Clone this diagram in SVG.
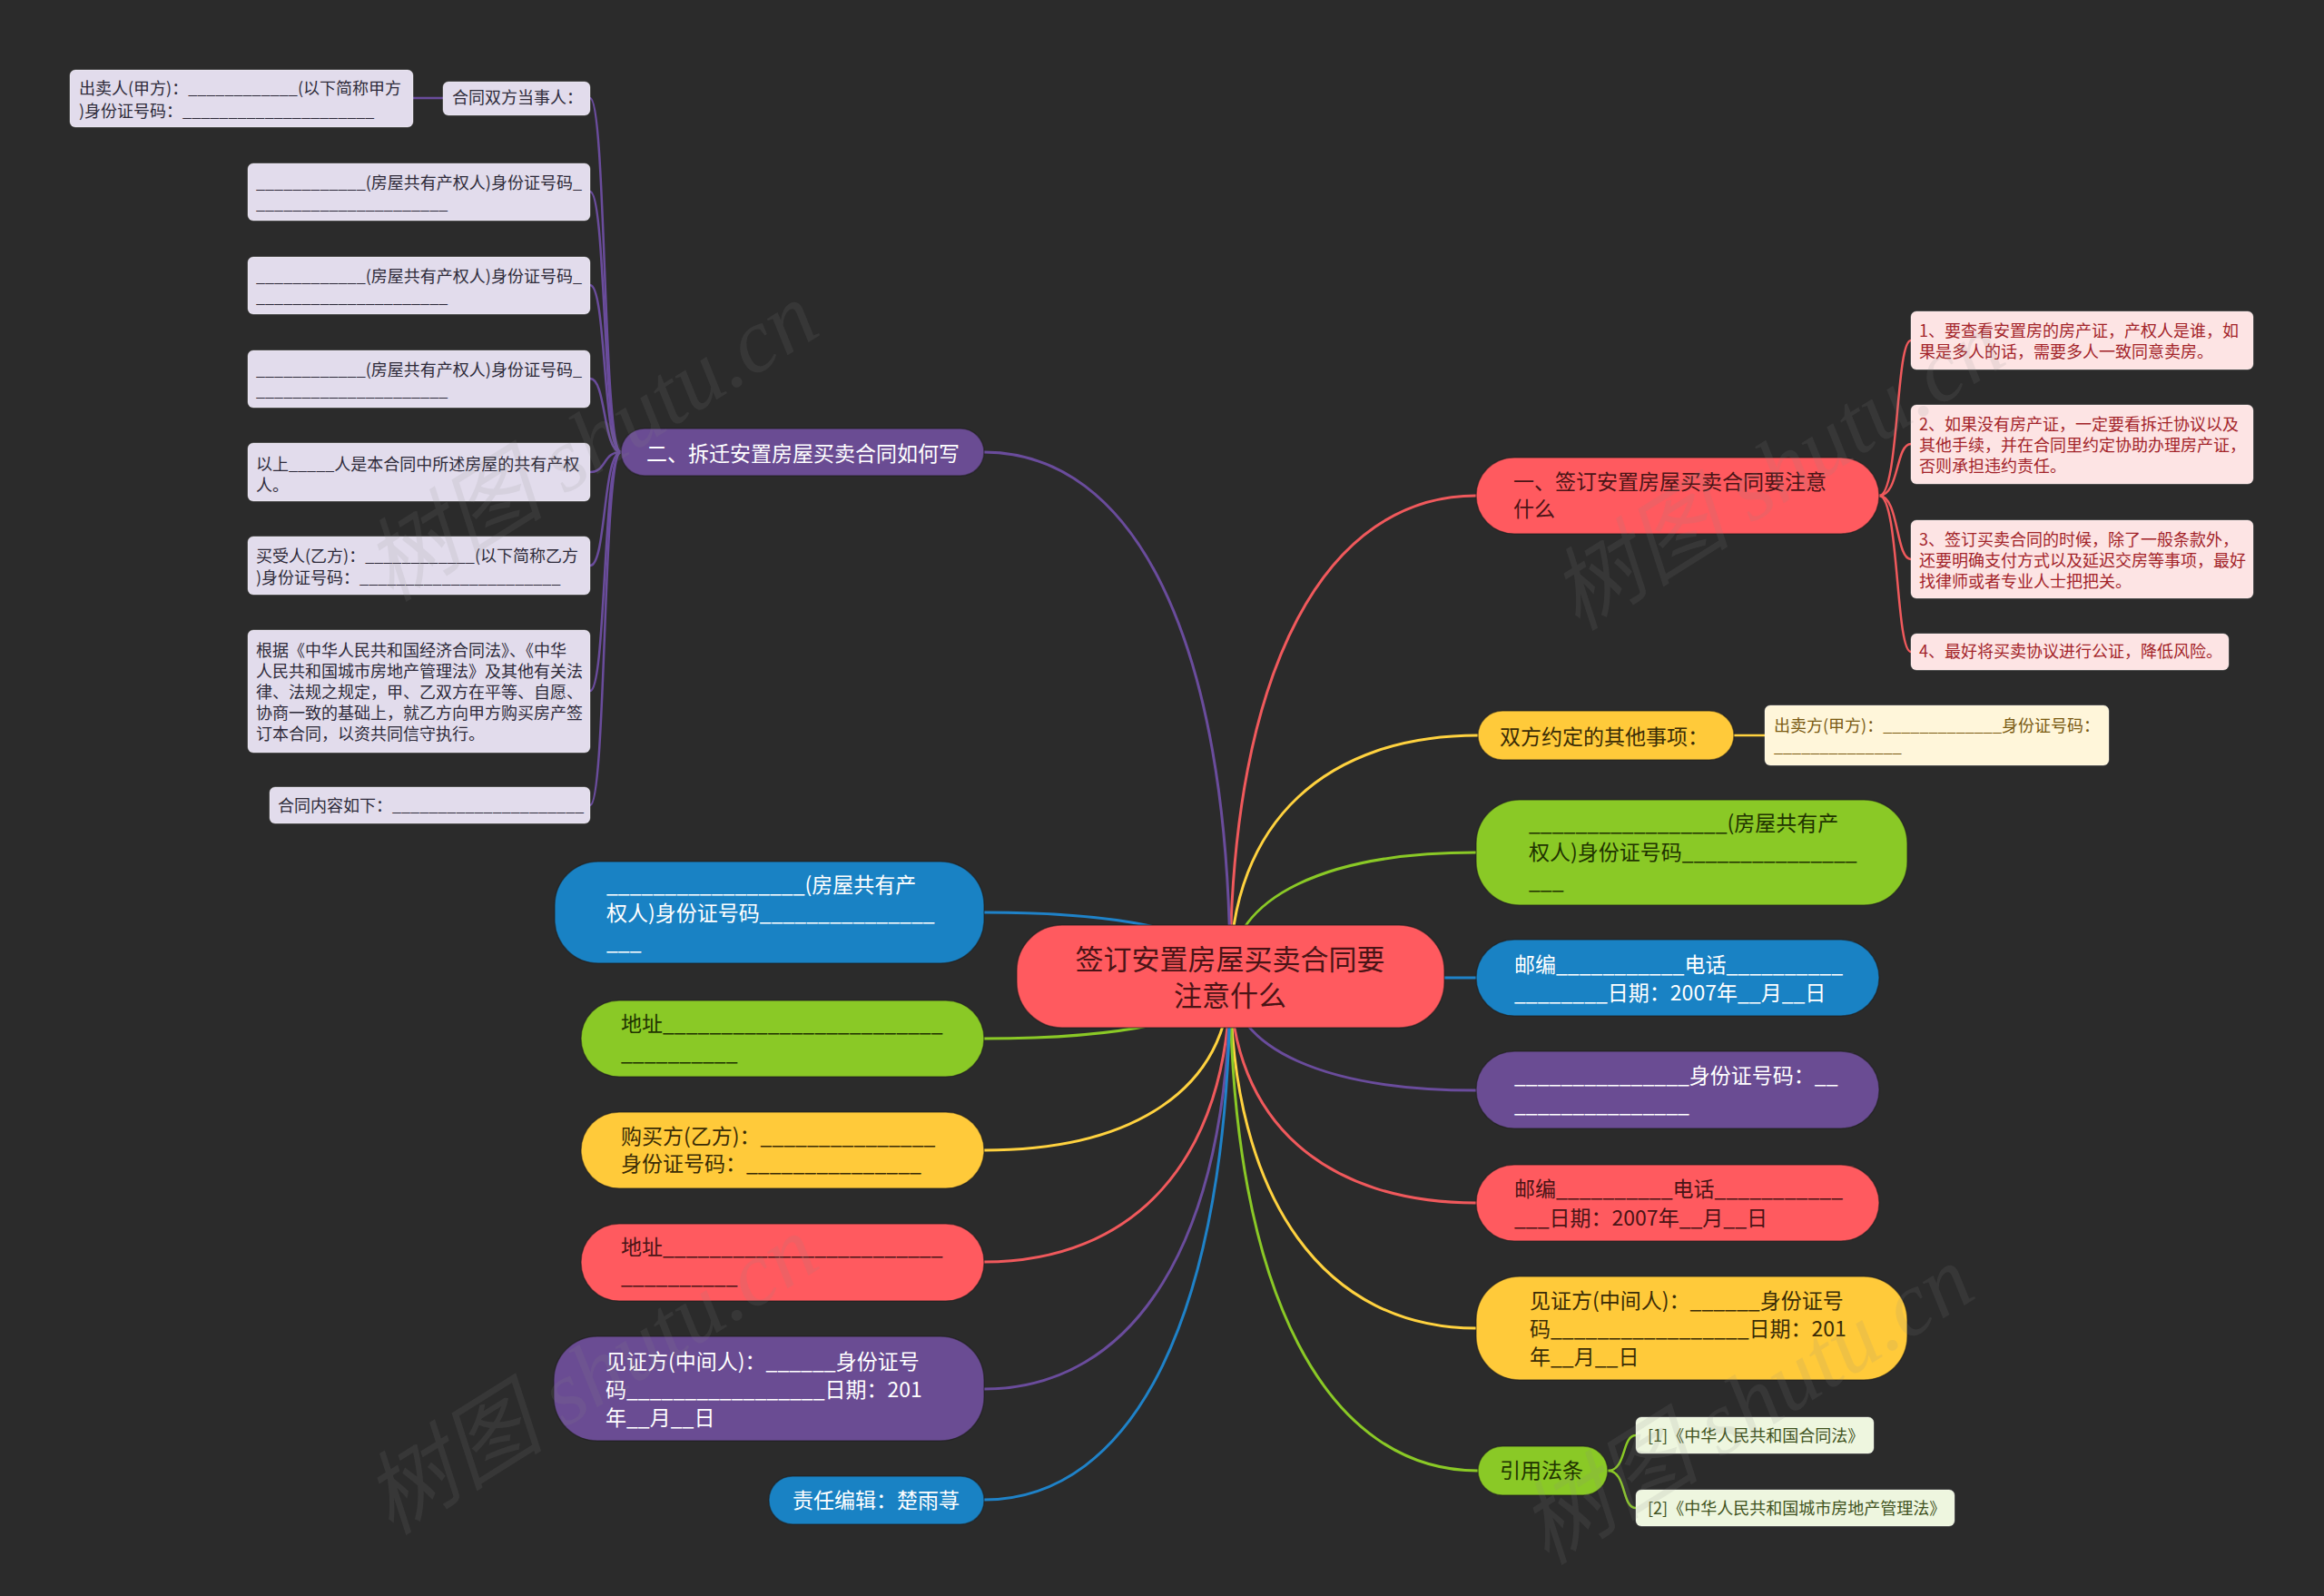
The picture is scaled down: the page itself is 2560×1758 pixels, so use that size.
<svg xmlns="http://www.w3.org/2000/svg" width="2560" height="1758" viewBox="0 0 2560 1758">
<defs>
<style>
.t{font-family:"Noto Sans CJK SC","Noto Sans",sans-serif}
.s18{font-size:18px}.s23{font-size:23px}.s31{font-size:31px}
.cR{stroke:#f0595c}.cY{stroke:#ffd23f}.cG{stroke:#8ac926}.cB{stroke:#1f82c8}.cP{stroke:#6a4c9c}
.ln{fill:none;stroke-width:3}
.sl{fill:none;stroke-width:2.5}
.nR{fill:#ff5a5f}.nY{fill:#ffca3a}.nG{fill:#8ac926}.nB{fill:#1982c4}.nP{fill:#6a4c93}
.nd{stroke:#1c1c1c;stroke-opacity:.5;stroke-width:1.5}
.tR{fill:#4a1416}.tY{fill:#3a2c06}.tG{fill:#1f3300}.tW{fill:#ffffff}
.bPk{fill:#fde4e4}.bCr{fill:#fff6da}.bLg{fill:#eef6df}.bLv{fill:#e2dcec}
.bx{stroke:#ffffff;stroke-opacity:.35;stroke-width:1}
.tPk{fill:#a3242a}.tCr{fill:#7a5a12}.tLg{fill:#3f5220}.tLv{fill:#2e2b3a}
.wm{font-family:"Liberation Serif","Noto Sans CJK SC",serif;font-size:100px;font-style:italic;fill:#8a8a8a;opacity:.13}
</style>
</defs>
<rect x="0" y="0" width="2560" height="1758" fill="#2b2b2b"/>

<g id="connectors">
<path class="ln cR" d="M1355,1075 C1355,731 1463,546 1626,546"/>
<path class="ln cY" d="M1355,1075 C1355,903 1464,810 1628,810"/>
<path class="ln cG" d="M1355,1075 C1355,987 1463,939 1626,939"/>
<path class="ln cB" d="M1355,1075 C1355,1076 1463,1077 1626,1077"/>
<path class="ln cP" d="M1355,1075 C1355,1157 1463,1201 1626,1201"/>
<path class="ln cR" d="M1355,1075 C1355,1238 1463,1325 1626,1325"/>
<path class="ln cY" d="M1355,1075 C1355,1327 1463,1463 1626,1463"/>
<path class="ln cG" d="M1355,1075 C1355,1429 1464,1620 1628,1620"/>
<path class="ln cP" d="M1355,1075 C1355,700 1247,498 1084,498"/>
<path class="ln cB" d="M1355,1075 C1355,1030 1247,1005 1084,1005"/>
<path class="ln cG" d="M1355,1075 C1355,1120 1247,1144 1084,1144"/>
<path class="ln cY" d="M1355,1075 C1355,1200 1247,1267 1084,1267"/>
<path class="ln cR" d="M1355,1075 C1355,1280 1247,1390 1084,1390"/>
<path class="ln cP" d="M1355,1075 C1355,1371 1247,1530 1084,1530"/>
<path class="ln cB" d="M1355,1075 C1355,1450 1247,1652 1084,1652"/>
<path class="sl cR" d="M2070,546 C2092,546 2088,375 2105,375"/>
<path class="sl cR" d="M2070,546 C2092,546 2088,489 2105,489"/>
<path class="sl cR" d="M2070,546 C2092,546 2088,616 2105,616"/>
<path class="sl cR" d="M2070,546 C2092,546 2088,718 2105,718"/>
<path class="sl cY" d="M1910,810 L1944,810"/>
<path class="sl cG" d="M1771,1620 C1792,1620 1786,1581 1802,1581"/>
<path class="sl cG" d="M1771,1620 C1792,1620 1786,1661 1802,1661"/>
<path class="sl cP" d="M684,498 C664,498 668,108 650,108"/>
<path class="sl cP" d="M684,498 C664,498 668,211 650,211"/>
<path class="sl cP" d="M684,498 C664,498 668,314 650,314"/>
<path class="sl cP" d="M684,498 C664,498 668,417 650,417"/>
<path class="sl cP" d="M684,498 C664,498 668,520 650,520"/>
<path class="sl cP" d="M684,498 C664,498 668,623 650,623"/>
<path class="sl cP" d="M684,498 C664,498 668,761 650,761"/>
<path class="sl cP" d="M684,498 C664,498 668,887 650,887"/>
<path class="sl cP" d="M488,108 L455,108"/>
</g>

<g id="center">
<rect class="nR nd" x="1120" y="1019" width="471" height="113" rx="50"/>
<text class="t s31 tR" x="1355" y="1068" text-anchor="middle">签订安置房屋买卖合同要</text>
<text class="t s31 tR" x="1355" y="1108" text-anchor="middle">注意什么</text>
</g>

<g id="r1">
<rect class="nR nd" x="1626" y="504" width="444" height="84" rx="42"/>
<text class="t s23 tR" x="1667" y="539">一、签订安置房屋买卖合同要注意</text>
<text class="t s23 tR" x="1667" y="569">什么</text>
</g>
<g id="r1a">
<rect class="bPk bx" x="2105" y="343" width="377" height="64" rx="6"/>
<text class="t s18 tPk" x="2114" y="371">1、要查看安置房的房产证，产权人是谁，如</text>
<text class="t s18 tPk" x="2114" y="394">果是多人的话，需要多人一致同意卖房。</text>
</g>
<g id="r1b">
<rect class="bPk bx" x="2105" y="446" width="377" height="87" rx="6"/>
<text class="t s18 tPk" x="2114" y="474">2、如果没有房产证，一定要看拆迁协议以及</text>
<text class="t s18 tPk" x="2114" y="497">其他手续，并在合同里约定协助办理房产证，</text>
<text class="t s18 tPk" x="2114" y="520">否则承担违约责任。</text>
</g>
<g id="r1c">
<rect class="bPk bx" x="2105" y="573" width="377" height="86" rx="6"/>
<text class="t s18 tPk" x="2114" y="601">3、签订买卖合同的时候，除了一般条款外，</text>
<text class="t s18 tPk" x="2114" y="624">还要明确支付方式以及延迟交房等事项，最好</text>
<text class="t s18 tPk" x="2114" y="647">找律师或者专业人士把把关。</text>
</g>
<g id="r1d">
<rect class="bPk bx" x="2105" y="698" width="350" height="40" rx="6"/>
<text class="t s18 tPk" x="2114" y="724">4、最好将买卖协议进行公证，降低风险。</text>
</g>

<g id="r2">
<rect class="nY nd" x="1628" y="783" width="282" height="54" rx="27"/>
<text class="t s23 tY" x="1652" y="820">双方约定的其他事项：</text>
</g>
<g id="r2a">
<rect class="bCr bx" x="1944" y="777" width="379" height="66" rx="6"/>
<text class="t s18 tCr" x="1954" y="806">出卖方(甲方)：_____________身份证号码：</text>
<text class="t s18 tCr" x="1954" y="829">______________</text>
</g>

<g id="r3">
<rect class="nG nd" x="1626" y="881" width="475" height="116" rx="48"/>
<text class="t s23 tG" x="1684" y="915">_________________(房屋共有产</text>
<text class="t s23 tG" x="1684" y="947">权人)身份证号码_______________</text>
<text class="t s23 tG" x="1684" y="979">___</text>
</g>

<g id="r4">
<rect class="nB nd" x="1626" y="1035" width="444" height="84" rx="42"/>
<text class="t s23 tW" x="1668" y="1071">邮编___________电话__________</text>
<text class="t s23 tW" x="1668" y="1102">________日期：2007年__月__日</text>
</g>

<g id="r5">
<rect class="nP nd" x="1626" y="1158" width="444" height="85" rx="42"/>
<text class="t s23 tW" x="1668" y="1193">_______________身份证号码：__</text>
<text class="t s23 tW" x="1668" y="1225">_______________</text>
</g>

<g id="r6">
<rect class="nR nd" x="1626" y="1283" width="444" height="84" rx="42"/>
<text class="t s23 tR" x="1668" y="1318">邮编__________电话___________</text>
<text class="t s23 tR" x="1668" y="1350">___日期：2007年__月__日</text>
</g>

<g id="r7">
<rect class="nY nd" x="1626" y="1406" width="475" height="114" rx="48"/>
<text class="t s23 tY" x="1685" y="1441">见证方(中间人)：______身份证号</text>
<text class="t s23 tY" x="1685" y="1472">码_________________日期：201</text>
<text class="t s23 tY" x="1685" y="1503">年__月__日</text>
</g>

<g id="r8">
<rect class="nG nd" x="1628" y="1593" width="143" height="54" rx="27"/>
<text class="t s23 tG" x="1652" y="1628">引用法条</text>
</g>
<g id="r8a">
<rect class="bLg bx" x="1802" y="1561" width="262" height="40" rx="6"/>
<text class="t s18 tLg" x="1815" y="1588">[1]《中华人民共和国合同法》</text>
</g>
<g id="r8b">
<rect class="bLg bx" x="1802" y="1641" width="351" height="40" rx="6"/>
<text class="t s18 tLg" x="1815" y="1668">[2]《中华人民共和国城市房地产管理法》</text>
</g>

<g id="l1">
<rect class="nP nd" x="684" y="472" width="400" height="52" rx="26"/>
<text class="t s23 tW" x="712" y="508">二、拆迁安置房屋买卖合同如何写</text>
</g>
<g id="l1a">
<rect class="bLv bx" x="488" y="90" width="162" height="37" rx="6"/>
<text class="t s18 tLv" x="498" y="114">合同双方当事人：</text>
</g>
<g id="l1a1">
<rect class="bLv bx" x="77" y="77" width="378" height="63" rx="6"/>
<text class="t s18 tLv" x="87" y="104">出卖人(甲方)：____________(以下简称甲方</text>
<text class="t s18 tLv" x="87" y="129">)身份证号码：_____________________</text>
</g>
<g id="l1b">
<rect class="bLv bx" x="273" y="180" width="377" height="63" rx="6"/>
<text class="t s18 tLv" x="282" y="208">____________(房屋共有产权人)身份证号码_</text>
<text class="t s18 tLv" x="282" y="231">_____________________</text>
</g>
<g id="l1c">
<rect class="bLv bx" x="273" y="283" width="377" height="63" rx="6"/>
<text class="t s18 tLv" x="282" y="311">____________(房屋共有产权人)身份证号码_</text>
<text class="t s18 tLv" x="282" y="334">_____________________</text>
</g>
<g id="l1d">
<rect class="bLv bx" x="273" y="386" width="377" height="63" rx="6"/>
<text class="t s18 tLv" x="282" y="414">____________(房屋共有产权人)身份证号码_</text>
<text class="t s18 tLv" x="282" y="437">_____________________</text>
</g>
<g id="l1e">
<rect class="bLv bx" x="273" y="488" width="377" height="64" rx="6"/>
<text class="t s18 tLv" x="282" y="518">以上_____人是本合同中所述房屋的共有产权</text>
<text class="t s18 tLv" x="282" y="541">人。</text>
</g>
<g id="l1f">
<rect class="bLv bx" x="273" y="591" width="377" height="64" rx="6"/>
<text class="t s18 tLv" x="282" y="619">买受人(乙方)：____________(以下简称乙方</text>
<text class="t s18 tLv" x="282" y="643">)身份证号码：______________________</text>
</g>
<g id="l1g">
<rect class="bLv bx" x="273" y="694" width="377" height="135" rx="6"/>
<text class="t s18 tLv" x="282" y="723">根据《中华人民共和国经济合同法》、《中华</text>
<text class="t s18 tLv" x="282" y="746">人民共和国城市房地产管理法》及其他有关法</text>
<text class="t s18 tLv" x="282" y="769">律、法规之规定，甲、乙双方在平等、自愿、</text>
<text class="t s18 tLv" x="282" y="792">协商一致的基础上，就乙方向甲方购买房产签</text>
<text class="t s18 tLv" x="282" y="815">订本合同，以资共同信守执行。</text>
</g>
<g id="l1h">
<rect class="bLv bx" x="297" y="867" width="353" height="40" rx="6"/>
<text class="t s18 tLv" x="306" y="894">合同内容如下：_____________________</text>
</g>

<g id="l2">
<rect class="nB nd" x="611" y="949" width="473" height="112" rx="48"/>
<text class="t s23 tW" x="668" y="983">_________________(房屋共有产</text>
<text class="t s23 tW" x="668" y="1014">权人)身份证号码_______________</text>
<text class="t s23 tW" x="668" y="1046">___</text>
</g>
<g id="l3">
<rect class="nG nd" x="640" y="1102" width="444" height="84" rx="42"/>
<text class="t s23 tG" x="684" y="1136">地址________________________</text>
<text class="t s23 tG" x="684" y="1168">__________</text>
</g>
<g id="l4">
<rect class="nY nd" x="640" y="1225" width="444" height="84" rx="42"/>
<text class="t s23 tY" x="684" y="1260">购买方(乙方)：_______________</text>
<text class="t s23 tY" x="684" y="1290">身份证号码：_______________</text>
</g>
<g id="l5">
<rect class="nR nd" x="640" y="1348" width="444" height="85" rx="42"/>
<text class="t s23 tR" x="684" y="1382">地址________________________</text>
<text class="t s23 tR" x="684" y="1414">__________</text>
</g>
<g id="l6">
<rect class="nP nd" x="610" y="1472" width="474" height="115" rx="48"/>
<text class="t s23 tW" x="667" y="1508">见证方(中间人)：______身份证号</text>
<text class="t s23 tW" x="667" y="1539">码_________________日期：201</text>
<text class="t s23 tW" x="667" y="1570">年__月__日</text>
</g>
<g id="l7">
<rect class="nB nd" x="847" y="1626" width="237" height="53" rx="26"/>
<text class="t s23 tW" x="873" y="1661">责任编辑：楚雨荨</text>
</g>

<g id="watermarks">
<text class="wm" x="653" y="520" text-anchor="middle" transform="rotate(-32 653 490)">树图 shutu.cn</text>
<text class="wm" x="1960" y="552" text-anchor="middle" transform="rotate(-32 1960 522)">树图 shutu.cn</text>
<text class="wm" x="653" y="1548" text-anchor="middle" transform="rotate(-32 653 1518)">树图 shutu.cn</text>
<text class="wm" x="1926" y="1581" text-anchor="middle" transform="rotate(-32 1926 1551)">树图 shutu.cn</text>
</g>
</svg>
